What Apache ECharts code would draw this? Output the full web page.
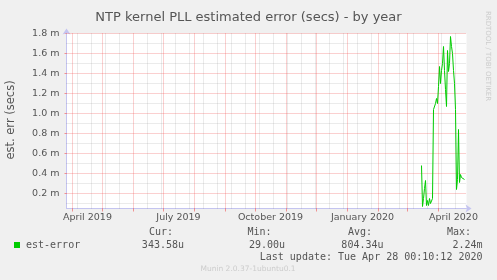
<!DOCTYPE html>
<html><head><meta charset="utf-8">
<script src="https://cdn.jsdelivr.net/npm/echarts@6/dist/echarts.min.js"></script>
<style>html,body{margin:0;padding:0;background:#F0F0F0}#c{width:497px;height:280px}</style>
</head><body><div id="c"></div>
<script>
// ---- data ----
const days = ['2020-03-15','2020-03-16','2020-03-17','2020-03-18','2020-03-19','2020-03-20','2020-03-21','2020-03-22','2020-03-23','2020-03-24','2020-03-25','2020-03-26','2020-03-27','2020-03-28','2020-03-29','2020-03-30','2020-03-31','2020-04-01','2020-04-02','2020-04-03','2020-04-04','2020-04-05','2020-04-06','2020-04-07','2020-04-08','2020-04-09','2020-04-10','2020-04-11','2020-04-12','2020-04-13','2020-04-14','2020-04-15','2020-04-16','2020-04-17','2020-04-18','2020-04-19','2020-04-20','2020-04-21','2020-04-22','2020-04-23','2020-04-24','2020-04-25','2020-04-26','2020-04-27'];
// est-error in milliseconds ("m")
const estError = [0.48,0.07,0.15,0.25,0.33,0.08,0.13,0.08,0.15,0.10,0.08,0.15,1.04,1.06,1.10,1.15,1.10,1.27,1.47,1.30,1.43,1.50,1.67,1.43,1.24,1.07,1.63,1.42,1.50,1.77,1.67,1.60,1.43,1.30,1.04,0.24,0.34,0.84,0.31,0.39,0.36,0.34,0.36,0.34];
const yMajorTicks = [0.2,0.4,0.6,0.8,1.0,1.2,1.4,1.6,1.8];
const yMinorTicks = [0.1,0.3,0.5,0.7,0.9,1.1,1.3,1.5,1.7];
const xMonthStarts = ['2019-04-01','2019-05-01','2019-06-01','2019-07-01','2019-08-01','2019-09-01','2019-10-01','2019-11-01','2019-12-01','2020-01-01','2020-02-01','2020-03-01','2020-04-01'];
const xMinorDates = ['2019-04-06','2019-04-20','2019-05-04','2019-05-18','2019-06-15','2019-06-29','2019-07-13','2019-07-27','2019-08-10','2019-08-24','2019-09-07','2019-09-21','2019-10-05','2019-10-19','2019-11-02','2019-11-16','2019-11-30','2019-12-14','2019-12-28','2020-01-11','2020-01-25','2020-02-08','2020-02-22','2020-03-07','2020-03-21','2020-04-04','2020-04-18'];
const xLabelDates = ['2019-04-16','2019-07-16','2019-10-16','2020-01-16','2020-04-16'];
const xLabelTexts = ['April 2019','July 2019','October 2019','January 2020','April 2020'];
const xRange = ['2019-03-26','2020-04-29'];
const yRange = [0.05, 1.8];
const seriesName = 'est-error';
const statNames = ['Cur:','Min:','Avg:','Max:'];
const statValues = ['343.58u','29.00u','804.34u','2.24m'];
const lastUpdate = 'Last update: Tue Apr 28 00:10:12 2020';
const titleText = 'NTP kernel PLL estimated error (secs) - by year';
const yAxisTitle = 'est. err (secs)';
const footerText = 'Munin 2.0.37-1ubuntu0.1';
const sideText = 'RRDTOOL / TOBI OETIKER';

// ---- build ----
const ts = s => new Date(s).getTime();
const labelMap = {};
xLabelDates.forEach((d, i) => { labelMap[ts(d)] = xLabelTexts[i]; });
const seriesData = days.map((d, i) => [ts(d), estError[i]]);

const majorStyle = {type: [1, 1], color: 'rgba(240,70,70,0.5)', width: 1};
const minorStyle = {type: [1, 1], color: 'rgba(140,140,140,0.35)', width: 1};
const gridLines = []
  .concat(xMinorDates.map(d => ({xAxis: ts(d), lineStyle: minorStyle})))
  .concat(yMinorTicks.map(v => ({yAxis: v, lineStyle: minorStyle})))
  .concat(xMonthStarts.map(d => ({xAxis: ts(d), lineStyle: majorStyle})))
  .concat(yMajorTicks.map(v => ({yAxis: v, lineStyle: majorStyle})));

const txtColor = '#555';
const graphics = [
  {type: 'text', x: 11.5, y: 120, rotation: Math.PI / 2,
   style: {text: yAxisTitle, fill: txtColor, fontSize: 11.5, fontFamily: 'DejaVu Sans', align: 'center', verticalAlign: 'middle'}},
  {type: 'text', x: 488, y: 56, rotation: -Math.PI / 2,
   style: {text: sideText, fill: '#cccccc', fontSize: 7, fontFamily: 'DejaVu Sans', align: 'center', verticalAlign: 'middle'}},
  {type: 'rect', shape: {x: 14, y: 242, width: 6, height: 6}, style: {fill: '#00CC00'}},
  {type: 'text', x: 26, y: 245.5,
   style: {text: seriesName, fill: txtColor, fontSize: 10, fontFamily: 'DejaVu Sans Mono', align: 'left', verticalAlign: 'middle'}},
  {type: 'text', x: 482.5, y: 257,
   style: {text: lastUpdate, fill: txtColor, fontSize: 10, fontFamily: 'DejaVu Sans Mono', align: 'right', verticalAlign: 'middle'}},
  {type: 'text', x: 248, y: 269,
   style: {text: footerText, fill: '#cccccc', fontSize: 7.5, fontFamily: 'DejaVu Sans', align: 'center', verticalAlign: 'middle'}}
];
const statNameX = [149, 247.5, 348, 447];
const statValueRight = [184, 285, 383.5, 482.5];
statNames.forEach((n, i) => {
  graphics.push({type: 'text', x: statNameX[i], y: 232.5,
    style: {text: n, fill: txtColor, fontSize: 10, fontFamily: 'DejaVu Sans Mono', align: 'left', verticalAlign: 'middle'}});
  graphics.push({type: 'text', x: statValueRight[i], y: 245.5,
    style: {text: statValues[i], fill: txtColor, fontSize: 10, fontFamily: 'DejaVu Sans Mono', align: 'right', verticalAlign: 'middle'}});
});

const axisLineColor = '#c4c4f0';
const chart = echarts.init(document.getElementById('c'), null, {renderer: 'canvas'});
chart.setOption({
  animation: false,
  backgroundColor: '#F0F0F0',
  title: {text: titleText, left: 'center', top: 6,
    textStyle: {fontSize: 13, fontWeight: 'normal', color: txtColor, fontFamily: 'DejaVu Sans'}},
  grid: {left: 66.5, top: 33.5, width: 400, height: 175, show: true, backgroundColor: '#FFFFFF', borderWidth: 0},
  xAxis: {
    type: 'value', min: ts(xRange[0]), max: ts(xRange[1]),
    axisLine: {show: true, lineStyle: {color: axisLineColor, width: 1}, symbol: ['none', 'arrow'], symbolSize: [6, 6], symbolOffset: [0, 5]},
    axisTick: {show: true, customValues: xMonthStarts.map(ts), length: 3, lineStyle: {color: 'rgba(240,70,70,0.55)'}},
    axisLabel: {customValues: xLabelDates.map(ts), formatter: v => labelMap[v] || '', color: txtColor,
      fontSize: 9.5, fontFamily: 'DejaVu Sans', margin: 4},
    splitLine: {show: false}
  },
  yAxis: {
    type: 'value', min: yRange[0], max: yRange[1],
    axisLine: {show: true, lineStyle: {color: axisLineColor, width: 1}, symbol: ['none', 'arrow'], symbolSize: [6, 6], symbolOffset: [0, 5]},
    axisTick: {show: true, customValues: yMajorTicks, length: 2, lineStyle: {color: 'rgba(240,70,70,0.55)'}},
    axisLabel: {customValues: yMajorTicks, formatter: v => v.toFixed(1) + ' m', color: txtColor,
      fontSize: 9.5, fontFamily: 'DejaVu Sans', margin: 7},
    splitLine: {show: false}
  },
  graphic: graphics,
  series: [
    {type: 'line', name: 'grid', data: [], z: 1, silent: true,
     markLine: {silent: true, symbol: ['none', 'none'], label: {show: false}, animation: false,
       lineStyle: {type: [1, 1], width: 1}, data: gridLines}},
    {type: 'line', name: seriesName, data: seriesData, z: 5, showSymbol: false, silent: true,
     lineStyle: {color: '#00CC00', width: 1}, itemStyle: {color: '#00CC00'}}
  ]
});
</script></body></html>
